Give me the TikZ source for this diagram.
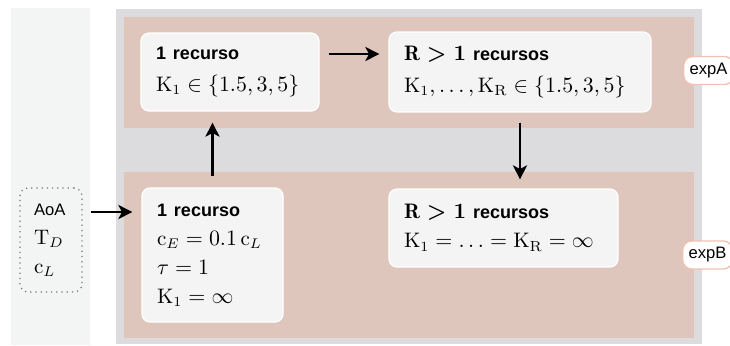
\documentclass[tikz,border=0pt]{standalone}
\usepackage{fontspec}
\setsansfont{Liberation Sans}
\usetikzlibrary{arrows.meta}

\definecolor{sidebg}{HTML}{F3F4F4}
\definecolor{framegray}{HTML}{DCDCDE}
\definecolor{bandbrown}{HTML}{DEC6BD}
\definecolor{cardfill}{HTML}{F3F4F3}
\definecolor{tagline}{HTML}{EFC2B3}

\begin{document}
\begin{tikzpicture}[x=0.5pt,y=-0.5pt,
  card/.style={rounded corners=4pt, fill=cardfill, draw=white, line width=0.6pt,
    align=left, inner xsep=7.5pt, inner ysep=0pt,
    font=\fontsize{10.5}{14.5}\selectfont},
  inputbox/.style={rounded corners=4pt, fill=sidebg, draw=black!55, dotted,
    line width=0.6pt, align=left, inner xsep=7pt, inner ysep=0pt,
    font=\fontsize{10.5}{14.5}\selectfont},
  tag/.style={fill=white, draw=tagline, rounded corners=4.5pt, line width=0.7pt,
    font=\sffamily\fontsize{8.3}{9}\selectfont, inner xsep=3pt, inner ysep=0pt,
    minimum height=14pt},
  arr/.style={-{Stealth[length=7pt,width=7pt,inset=1.8pt]}, line width=1.4pt}]
\useasboundingbox (0,0) rectangle (730,345);

% panels
\fill[sidebg] (11,8) rectangle (90,345);
\fill[framegray] (116,9) rectangle (702,344);
\fill[bandbrown] (124,17) rectangle (694,128);
\fill[bandbrown] (124,172) rectangle (694,338);

\newcommand{\headsf}[1]{{\sffamily\bfseries\fontsize{9}{14}\selectfont #1}}

% experiment A
\node[card, text width=74pt, minimum height=39pt] (a1) at (230,72)
  {\headsf{1 recurso}\\[1.5pt] $\mathrm{K}_1\in\{1.5,3,5\}$};
\node[card, text width=116pt, minimum height=40pt] (a2) at (520,72)
  {{\boldmath$\mathrm{R}>1$}~\headsf{recursos}\\[1.5pt]
   $\mathrm{K}_1,\ldots,\mathrm{K}_\mathrm{R}\in\{1.5,3,5\}$};

% experiment B
\node[card, text width=55.5pt, minimum height=67pt] (b1) at (212.5,255)
  {\headsf{1 recurso}\\ $\mathrm{c}_E=0.1\,\mathrm{c}_L$\\ $\tau=1$\\ $\mathrm{K}_1=\infty$};
\node[card, text width=99.5pt, minimum height=39pt] (b2) at (503.5,228)
  {{\boldmath$\mathrm{R}>1$}~\headsf{recursos}\\
   $\mathrm{K}_1=\ldots=\mathrm{K}_\mathrm{R}=\infty$};

% inputs
\node[inputbox, text width=17pt, minimum height=52pt] (in) at (51,240)
  {{\sffamily\fontsize{8.3}{9}\selectfont AoA}\\ $\mathrm{T}_D$\\ $\mathrm{c}_L$};

% tags
\node[tag, anchor=west] (ea) at (683,70.5) {expA};
\node[tag, anchor=west] (eb) at (682,255) {expB};

% connectors
\draw[arr, shorten <=4.5pt, shorten >=4.5pt]
  ([yshift=9pt]a1.east) -- ([yshift=9pt]a2.west);
\draw[arr, shorten <=5pt, shorten >=4.5pt]
  (a2.south) -- (a2.south |- b2.north);
\draw[arr, shorten <=5.5pt, shorten >=5.5pt]
  (b1.north) -- (b1.north |- a1.south);
\draw[arr, shorten <=4pt, shorten >=4.5pt]
  ([yshift=14pt]in.east) -- ([yshift=14pt]in.east -| b1.west);
\end{tikzpicture}
\end{document}
